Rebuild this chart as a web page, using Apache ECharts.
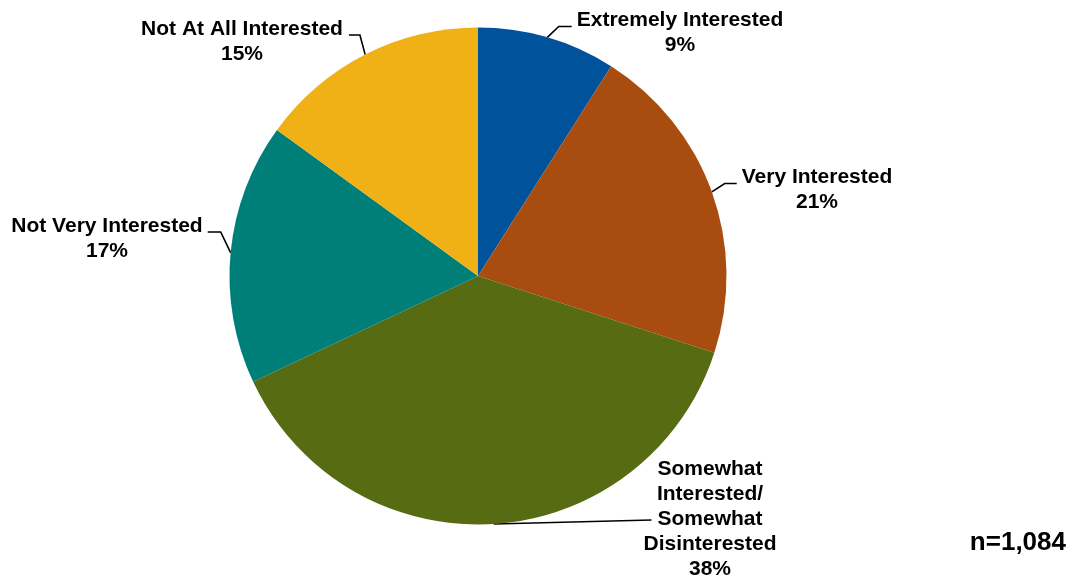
<!DOCTYPE html>
<html>
<head>
<meta charset="utf-8">
<title>Interest level</title>
<script src="https://cdn.jsdelivr.net/npm/echarts@6/dist/echarts.min.js"></script>
<style>
  html, body { margin: 0; padding: 0; background: #ffffff; }
  #chart { width: 1073px; height: 576px; }
</style>
</head>
<body>
<div id="chart"></div>
<script>
// Survey answers and their shares (percent), clockwise from 12 o'clock
const categories = [
  'Extremely Interested',
  'Very Interested',
  'Somewhat\nInterested/\nSomewhat\nDisinterested',
  'Not Very Interested',
  'Not At All Interested'
];
const shares = [9, 21, 38, 17, 15];
const sampleSize = 'n=1,084';

const sliceColors = ['#00539B', '#A84D0F', '#566B12', '#007F79', '#EFB115'];

// Where each label block sits (centre), which side of it the leader line meets,
// how far above the block centre it meets, the gap to the text, and the length
// of the horizontal run
const labelPlacement = [
  { x: 680, y: 33,  side: 1,  dy: -6.5, gap: 5,  run: 13 },
  { x: 817, y: 190, side: 1,  dy: -6.5, gap: 5,  run: 12 },
  { x: 710, y: 519, side: 1,  dy: 1,    gap: -8, run: 0 },
  { x: 107, y: 239, side: -1, dy: -7,   gap: 5,  run: 13 },
  { x: 242, y: 42,  side: -1, dy: -7,   gap: 6,  run: 11 }
];

const chart = echarts.init(document.getElementById('chart'), null, { renderer: 'canvas' });

chart.setOption({
  animation: false,
  backgroundColor: '#ffffff',
  series: [{
    type: 'pie',
    center: [478, 276],
    radius: 248.5,
    startAngle: 90,
    clockwise: true,
    avoidLabelOverlap: false,
    silent: true,
    data: categories.map((name, i) => ({
      name: name,
      value: shares[i],
      itemStyle: { color: sliceColors[i] }
    })),
    itemStyle: { borderWidth: 0 },
    label: {
      show: true,
      position: 'outside',
      formatter: p => p.name + '\n' + p.value + '%',
      fontFamily: 'Liberation Sans, Arial, sans-serif',
      fontWeight: 'bold',
      fontSize: 21,
      lineHeight: 25,
      color: '#000000',
      align: 'center'
    },
    labelLine: {
      show: true,
      length: 10,
      length2: 10,
      lineStyle: { color: '#000000', width: 1.6 }
    },
    labelLayout: function (params) {
      const pl = labelPlacement[params.dataIndex];
      const w = params.labelRect.width;
      const edge = params.labelLinePoints ? params.labelLinePoints[0] : [pl.x, pl.y];
      const endX = pl.x - pl.side * (w / 2 + pl.gap);
      const endY = pl.y + pl.dy;
      const elbowX = pl.run > 0 ? endX - pl.side * pl.run : edge[0];
      const elbowY = pl.run > 0 ? endY : edge[1];
      return {
        x: pl.x,
        y: pl.y,
        align: 'center',
        verticalAlign: 'middle',
        labelLinePoints: [[edge[0], edge[1]], [elbowX, elbowY], [endX, endY]]
      };
    }
  }],
  graphic: [{
    type: 'text',
    right: 7,
    top: 530,
    style: {
      text: sampleSize,
      font: 'bold 26px "Liberation Sans", Arial, sans-serif',
      fill: '#000000'
    }
  }]
});
</script>
</body>
</html>
